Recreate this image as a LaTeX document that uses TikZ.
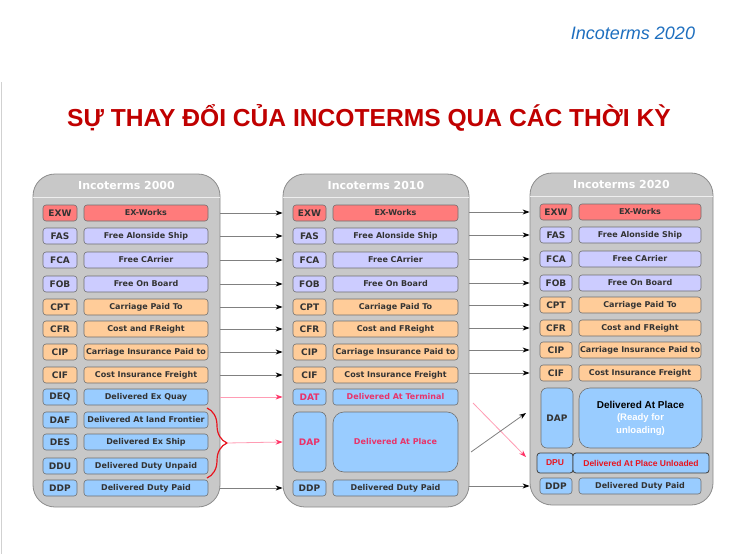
\documentclass[tikz,border=0pt]{standalone}
\usepackage{fontspec}
\setmainfont{DejaVu Sans}
\newfontfamily\arial{Liberation Sans}
\usetikzlibrary{arrows.meta, decorations.pathreplacing}

\definecolor{fondpanneau}{HTML}{C8C8C8}
\definecolor{bordpanneau}{HTML}{8C8C8C}
\definecolor{bordcase}{HTML}{707070}
\definecolor{texte}{HTML}{333333}
\definecolor{cE}{HTML}{FF7B7B}
\definecolor{cF}{HTML}{CCCCFF}
\definecolor{cC}{HTML}{FFCC99}
\definecolor{cD}{HTML}{99CCFF}
\definecolor{rosetexte}{HTML}{E8336A}
\definecolor{rougetexte}{HTML}{E8141E}
\definecolor{roseligne}{HTML}{FF9CB4}
\definecolor{rosepointe}{HTML}{FF3366}
\definecolor{titre}{HTML}{C00000}
\definecolor{bleutitre}{HTML}{1E6FBF}
\definecolor{gris}{HTML}{808080}

\tikzstyle{panneau} = [draw=bordpanneau, fill=fondpanneau, line width=0.8pt, rounded corners=22pt, inner sep=0pt]
\tikzstyle{entete} = [text=white, font=\bfseries\fontsize{11}{12}\selectfont]
\tikzstyle{libelle} = [draw=bordcase, line width=0.6pt, rounded corners=3pt, minimum height=16pt, inner sep=0pt, text=texte, font=\bfseries\fontsize{8}{9}\selectfont]
\tikzstyle{sigle} = [libelle, font=\bfseries\fontsize{9}{10}\selectfont]
\tikzstyle{groupeE} = [fill=cE]
\tikzstyle{groupeF} = [fill=cF]
\tikzstyle{groupeC} = [fill=cC]
\tikzstyle{groupeD} = [fill=cD]
\tikzstyle{fleche} = [-{Stealth[length=7pt,width=5pt,black]}, draw=gris, line width=0.8pt]
\tikzstyle{flecherose} = [-{Stealth[length=7pt,width=5pt,rosepointe]}, draw=roseligne, line width=0.8pt]

\begin{document}
\begin{tikzpicture}[x=1pt, y=-1pt]
	\useasboundingbox[fill=white] (0,0) rectangle (740,554);
	\draw[black!18, line width=1pt] (1,82) -- (1,554);

	% titres
	\node[text=bleutitre, font=\arial\itshape\fontsize{18}{20}\selectfont] (sous) at (633,33) {Incoterms 2020};
	\node[text=titre, font=\arial\bfseries\fontsize{24.6}{28}\selectfont] (titre) at (369,118) {SỰ THAY ĐỔI CỦA INCOTERMS QUA CÁC THỜI KỲ};

	% panneaux
	\node[panneau, minimum width=187pt, minimum height=333pt] (Pa) at (126.5,340.5) {};
	\node[panneau, minimum width=186pt, minimum height=333pt] (Pb) at (376,340.5) {};
	\node[panneau, minimum width=183pt, minimum height=332pt] (Pc) at (621.5,339) {};
	\draw[white!70!fondpanneau, line width=0.8pt] (Pa.west |- 0,197) -- (Pa.east |- 0,197);
	\draw[white!70!fondpanneau, line width=0.8pt] (Pb.west |- 0,197) -- (Pb.east |- 0,197);
	\draw[white!70!fondpanneau, line width=0.8pt] (Pc.west |- 0,196) -- (Pc.east |- 0,196);
	\node[entete] (Ha) at (126.5,185) {Incoterms 2000};
	\node[entete] (Hb) at (376,185) {Incoterms 2010};
	\node[entete] (Hc) at (621.5,184) {Incoterms 2020};

	% Incoterms 2000
	\node[sigle, groupeE, minimum width=34pt] (EXWa) at (60,213) {EXW};
	\node[libelle, groupeE, minimum width=124pt] (tEXWa) at (146,213) {EX-Works};
	\node[sigle, groupeF, minimum width=34pt] (FASa) at (60,236) {FAS};
	\node[libelle, groupeF, minimum width=124pt] (tFASa) at (146,236) {Free Alonside Ship};
	\node[sigle, groupeF, minimum width=34pt] (FCAa) at (60,260) {FCA};
	\node[libelle, groupeF, minimum width=124pt] (tFCAa) at (146,260) {Free CArrier};
	\node[sigle, groupeF, minimum width=34pt] (FOBa) at (60,284) {FOB};
	\node[libelle, groupeF, minimum width=124pt] (tFOBa) at (146,284) {Free On Board};
	\node[sigle, groupeC, minimum width=34pt] (CPTa) at (60,307) {CPT};
	\node[libelle, groupeC, minimum width=124pt] (tCPTa) at (146,307) {Carriage Paid To};
	\node[sigle, groupeC, minimum width=34pt] (CFRa) at (60,329) {CFR};
	\node[libelle, groupeC, minimum width=124pt] (tCFRa) at (146,329) {Cost and FReight};
	\node[sigle, groupeC, minimum width=34pt] (CIPa) at (60,352) {CIP};
	\node[libelle, groupeC, minimum width=124pt] (tCIPa) at (146,352) {Carriage Insurance Paid to};
	\node[sigle, groupeC, minimum width=34pt] (CIFa) at (60,375) {CIF};
	\node[libelle, groupeC, minimum width=124pt] (tCIFa) at (146,375) {Cost Insurance Freight};
	\node[sigle, groupeD, minimum width=34pt] (DEQa) at (60,397) {DEQ};
	\node[libelle, groupeD, minimum width=124pt] (tDEQa) at (146,397) {Delivered Ex Quay};
	\node[sigle, groupeD, minimum width=34pt] (DAFa) at (60,420) {DAF};
	\node[libelle, groupeD, minimum width=124pt] (tDAFa) at (146,420) {Delivered At land Frontier};
	\node[sigle, groupeD, minimum width=34pt] (DESa) at (60,442) {DES};
	\node[libelle, groupeD, minimum width=124pt] (tDESa) at (146,442) {Delivered Ex Ship};
	\node[sigle, groupeD, minimum width=34pt] (DDUa) at (60,466) {DDU};
	\node[libelle, groupeD, minimum width=124pt] (tDDUa) at (146,466) {Delivered Duty Unpaid};
	\node[sigle, groupeD, minimum width=34pt] (DDPa) at (60,488) {DDP};
	\node[libelle, groupeD, minimum width=124pt] (tDDPa) at (146,488) {Delivered Duty Paid};

	% Incoterms 2010
	\node[sigle, groupeE, minimum width=33pt] (EXWb) at (309.5,213) {EXW};
	\node[libelle, groupeE, minimum width=125pt] (tEXWb) at (395.5,213) {EX-Works};
	\node[sigle, groupeF, minimum width=33pt] (FASb) at (309.5,236) {FAS};
	\node[libelle, groupeF, minimum width=125pt] (tFASb) at (395.5,236) {Free Alonside Ship};
	\node[sigle, groupeF, minimum width=33pt] (FCAb) at (309.5,260) {FCA};
	\node[libelle, groupeF, minimum width=125pt] (tFCAb) at (395.5,260) {Free CArrier};
	\node[sigle, groupeF, minimum width=33pt] (FOBb) at (309.5,284) {FOB};
	\node[libelle, groupeF, minimum width=125pt] (tFOBb) at (395.5,284) {Free On Board};
	\node[sigle, groupeC, minimum width=33pt] (CPTb) at (309.5,307) {CPT};
	\node[libelle, groupeC, minimum width=125pt] (tCPTb) at (395.5,307) {Carriage Paid To};
	\node[sigle, groupeC, minimum width=33pt] (CFRb) at (309.5,329) {CFR};
	\node[libelle, groupeC, minimum width=125pt] (tCFRb) at (395.5,329) {Cost and FReight};
	\node[sigle, groupeC, minimum width=33pt] (CIPb) at (309.5,352) {CIP};
	\node[libelle, groupeC, minimum width=125pt] (tCIPb) at (395.5,352) {Carriage Insurance Paid to};
	\node[sigle, groupeC, minimum width=33pt] (CIFb) at (309.5,375) {CIF};
	\node[libelle, groupeC, minimum width=125pt] (tCIFb) at (395.5,375) {Cost Insurance Freight};
	\node[sigle, groupeD, minimum width=33pt, text=rosetexte] (DATb) at (309.5,397) {DAT};
	\node[libelle, groupeD, minimum width=125pt, text=rosetexte] (tDATb) at (395.5,397) {Delivered At Terminal};
	\node[sigle, groupeD, minimum width=33pt, minimum height=60pt, rounded corners=6pt, text=rosetexte] (DAPb) at (309.5,442) {DAP};
	\node[libelle, groupeD, minimum width=125pt, minimum height=60pt, rounded corners=11pt, text=rosetexte] (tDAPb) at (395.5,442) {Delivered At Place};
	\node[sigle, groupeD, minimum width=33pt] (DDPb) at (309.5,488) {DDP};
	\node[libelle, groupeD, minimum width=125pt] (tDDPb) at (395.5,488) {Delivered Duty Paid};

	% Incoterms 2020
	\node[sigle, groupeE, minimum width=32pt] (EXWc) at (556,212) {EXW};
	\node[libelle, groupeE, minimum width=122pt] (tEXWc) at (640,212) {EX-Works};
	\node[sigle, groupeF, minimum width=32pt] (FASc) at (556,235) {FAS};
	\node[libelle, groupeF, minimum width=122pt] (tFASc) at (640,235) {Free Alonside Ship};
	\node[sigle, groupeF, minimum width=32pt] (FCAc) at (556,259) {FCA};
	\node[libelle, groupeF, minimum width=122pt] (tFCAc) at (640,259) {Free CArrier};
	\node[sigle, groupeF, minimum width=32pt] (FOBc) at (556,283) {FOB};
	\node[libelle, groupeF, minimum width=122pt] (tFOBc) at (640,283) {Free On Board};
	\node[sigle, groupeC, minimum width=32pt] (CPTc) at (556,305) {CPT};
	\node[libelle, groupeC, minimum width=122pt] (tCPTc) at (640,305) {Carriage Paid To};
	\node[sigle, groupeC, minimum width=32pt] (CFRc) at (556,328) {CFR};
	\node[libelle, groupeC, minimum width=122pt] (tCFRc) at (640,328) {Cost and FReight};
	\node[sigle, groupeC, minimum width=32pt] (CIPc) at (556,350) {CIP};
	\node[libelle, groupeC, minimum width=122pt] (tCIPc) at (640,350) {Carriage Insurance Paid to};
	\node[sigle, groupeC, minimum width=32pt] (CIFc) at (556,373) {CIF};
	\node[libelle, groupeC, minimum width=122pt] (tCIFc) at (640,373) {Cost Insurance Freight};
	\node[sigle, groupeD, minimum width=32pt, minimum height=60pt, rounded corners=6pt] (DAPc) at (557,418) {DAP};
	\node[libelle, groupeD, minimum width=123pt, minimum height=60pt, rounded corners=11pt, align=center, text=black,
		font=\arial\bfseries\fontsize{10}{12.5}\selectfont] (tDAPc) at (640.5,418)
		{Delivered At Place\\ \textcolor{white}{\fontsize{9.5}{12.5}\selectfont (Ready for}\\ \textcolor{white}{\fontsize{9.5}{12.5}\selectfont unloading)}};
	\node[sigle, groupeD, minimum width=36pt, minimum height=20pt, draw=black!75, line width=0.8pt, text=rougetexte,
		font=\arial\bfseries\fontsize{8.5}{10}\selectfont] (DPUc) at (555,463) {DPU};
	\node[libelle, groupeD, minimum width=136pt, minimum height=20pt, draw=black!75, line width=0.8pt, text=rougetexte,
		font=\arial\bfseries\fontsize{8.5}{10}\selectfont] (tDPUc) at (641,463) {Delivered At Place Unloaded};
	\node[sigle, groupeD, minimum width=32pt] (DDPc) at (556,486) {DDP};
	\node[libelle, groupeD, minimum width=122pt] (tDDPc) at (640,486) {Delivered Duty Paid};

	% 2000 -> 2010
	\draw[fleche] (Pa.east |- EXWa) -- (Pb.west |- EXWa);
	\draw[fleche] (Pa.east |- FASa) -- (Pb.west |- FASa);
	\draw[fleche] (Pa.east |- FCAa) -- (Pb.west |- FCAa);
	\draw[fleche] (Pa.east |- FOBa) -- (Pb.west |- FOBa);
	\draw[fleche] (Pa.east |- CPTa) -- (Pb.west |- CPTa);
	\draw[fleche] (Pa.east |- CFRa) -- (Pb.west |- CFRa);
	\draw[fleche] (Pa.east |- CIPa) -- (Pb.west |- CIPa);
	\draw[fleche] (Pa.east |- CIFa) -- (Pb.west |- CIFa);
	\draw[flecherose] (Pa.east |- DEQa) -- (Pb.west |- DATb);
	\draw[fleche] (Pa.east |- DDPa) -- (Pb.west |- DDPb);

	\draw[rougetexte, line width=1.2pt, decoration={brace,amplitude=20pt}, decorate]
		(207,408) -- coordinate[xshift=20pt] (accolade) (207,478);
	\draw[flecherose] (accolade) -- (Pb.west |- DAPb);

	% 2010 -> 2020
	\draw[fleche] (Pb.east |- EXWc) -- (Pc.west |- EXWc);
	\draw[fleche] (Pb.east |- FASc) -- (Pc.west |- FASc);
	\draw[fleche] (Pb.east |- FCAc) -- (Pc.west |- FCAc);
	\draw[fleche] (Pb.east |- FOBc) -- (Pc.west |- FOBc);
	\draw[fleche] (Pb.east |- CPTc) -- (Pc.west |- CPTc);
	\draw[fleche] (Pb.east |- CFRc) -- (Pc.west |- CFRc);
	\draw[fleche] (Pb.east |- CIPc) -- (Pc.west |- CIPc);
	\draw[fleche] (Pb.east |- CIFc) -- (Pc.west |- CIFc);
	\draw[fleche] (Pb.east |- DDPc) -- (Pc.west |- DDPc);

	\coordinate (departDAT) at (473,403);
	\coordinate (arriveeDPU) at (526,457);
	\coordinate (departDAP) at (471,452);
	\coordinate (arriveeDAP) at (526,413);
	\draw[flecherose] (departDAT) -- (arriveeDPU);
	\draw[fleche] (departDAP) -- (arriveeDAP);

\end{tikzpicture}
\end{document}
